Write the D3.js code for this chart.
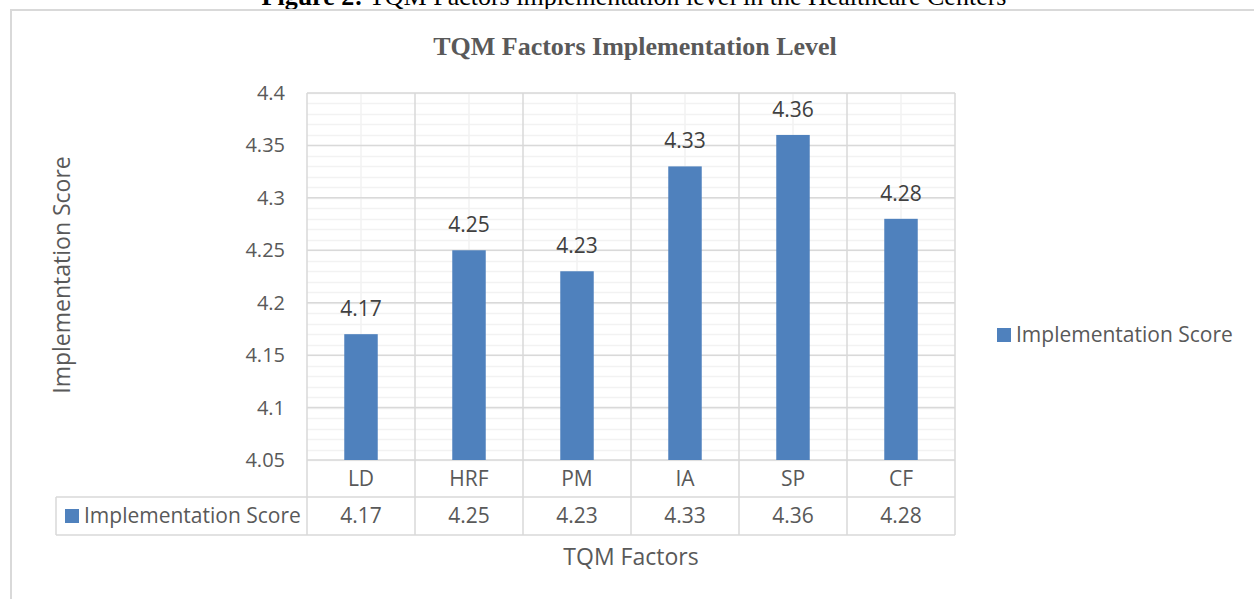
<!DOCTYPE html>
<html>
<head>
<meta charset="utf-8">
<script src="https://cdn.jsdelivr.net/npm/d3@7"></script>
<style>
    html, body { margin: 0; padding: 0; background: #fff; overflow: hidden; }
    svg { display: block; }
    text { font-family: "Open Sans", sans-serif; fill: #595959; }
</style>
</head>
<body>
<svg id="canvas" width="1254" height="599"></svg>
<script>
// Chart data
const categories = ["LD", "HRF", "PM", "IA", "SP", "CF"];
const scores = [4.17, 4.25, 4.23, 4.33, 4.36, 4.28];
const yTicks = [4.05, 4.1, 4.15, 4.2, 4.25, 4.3, 4.35, 4.4];
const yTickLabels = ["4.05", "4.1", "4.15", "4.2", "4.25", "4.3", "4.35", "4.4"];
const seriesName = "Implementation Score";
const chartTitle = "TQM Factors Implementation Level";
const xTitle = "TQM Factors";
const yTitle = "Implementation Score";

const svg = d3.select("#canvas");
const barColor = "#4F81BD";
const gridMajor = "#D9D9D9";
const gridMinor = "#F2F2F2";

const plot = { left: 307, right: 955, top: 93, bottom: 460 };
const tableRow1 = 497;
const tableRow2 = 535;
const tableLeft = 56;

// Figure caption (cut off at the top of the page)
const caption = svg.append("text")
    .attr("x", 634)
    .attr("y", 5)
    .attr("text-anchor", "middle")
    .style("font-family", "'Liberation Serif', serif")
    .style("font-size", "26px")
    .style("fill", "#000");
caption.append("tspan").style("font-weight", "bold").text("Figure 2:");
caption.append("tspan").text("  TQM Factors implementation level in the Healthcare Centers");

// Chart area border
svg.append("path")
    .attr("d", `M11,${599 + 5} L11,10 L${1254 + 5},10`)
    .attr("fill", "none")
    .attr("stroke", gridMajor)
    .attr("stroke-width", 2);

// Title
svg.append("text")
    .attr("x", 635)
    .attr("y", 55)
    .attr("text-anchor", "middle")
    .style("font-family", "'Liberation Serif', serif")
    .style("font-weight", "bold")
    .style("font-size", "26px")
    .text(chartTitle);

// Scales
const y = d3.scaleLinear().domain([4.05, 4.4]).range([plot.bottom, plot.top]);
const xCell = d3.scaleBand().domain(categories).range([plot.left, plot.right]).padding(0);
const x = d3.scaleBand().domain(categories).range([plot.left, plot.right])
    .paddingInner(0.69).paddingOuter(0.345);

// Minor horizontal gridlines
const minorTicks = d3.range(405, 441).map((d) => d / 100);
svg.append("g")
    .selectAll("line")
    .data(minorTicks)
    .join("line")
    .attr("x1", plot.left)
    .attr("x2", plot.right)
    .attr("y1", (d) => Math.round(y(d)) + 0.5)
    .attr("y2", (d) => Math.round(y(d)) + 0.5)
    .attr("stroke", gridMinor)
    .attr("stroke-width", 1.5);

// Minor vertical gridlines at category centres
svg.append("g")
    .selectAll("line")
    .data(categories)
    .join("line")
    .attr("x1", (d) => xCell(d) + xCell.bandwidth() / 2)
    .attr("x2", (d) => xCell(d) + xCell.bandwidth() / 2)
    .attr("y1", plot.top)
    .attr("y2", plot.bottom)
    .attr("stroke", gridMinor)
    .attr("stroke-width", 1.5);

// Major horizontal gridlines
svg.append("g")
    .selectAll("line")
    .data(yTicks)
    .join("line")
    .attr("x1", plot.left)
    .attr("x2", plot.right)
    .attr("y1", (d) => y(d))
    .attr("y2", (d) => y(d))
    .attr("stroke", gridMajor)
    .attr("stroke-width", 1.5);

// Major vertical lines at category boundaries (through the data table)
const boundaries = categories.map((d) => xCell(d)).concat([plot.right]);
svg.append("g")
    .selectAll("line")
    .data(boundaries)
    .join("line")
    .attr("x1", (d) => d)
    .attr("x2", (d) => d)
    .attr("y1", plot.top)
    .attr("y2", tableRow2)
    .attr("stroke", gridMajor)
    .attr("stroke-width", 1.5);

// Data table horizontal lines
[tableRow1, tableRow2].forEach((ty) => {
    svg.append("line")
        .attr("x1", tableLeft).attr("x2", plot.right)
        .attr("y1", ty).attr("y2", ty)
        .attr("stroke", gridMajor).attr("stroke-width", 1.5);
});
svg.append("line")
    .attr("x1", tableLeft).attr("x2", tableLeft)
    .attr("y1", tableRow1).attr("y2", tableRow2)
    .attr("stroke", gridMajor).attr("stroke-width", 1.5);

// Bars
svg.append("g")
    .selectAll("rect")
    .data(scores)
    .join("rect")
    .attr("x", (d, i) => x(categories[i]))
    .attr("y", (d) => y(d))
    .attr("width", x.bandwidth())
    .attr("height", (d) => plot.bottom - y(d))
    .attr("fill", barColor);

// Data labels
svg.append("g")
    .selectAll("text")
    .data(scores)
    .join("text")
    .attr("x", (d, i) => x(categories[i]) + x.bandwidth() / 2)
    .attr("y", (d) => y(d) - 18)
    .attr("text-anchor", "middle")
    .style("font-size", "21px")
    .style("fill", "#404040")
    .text((d) => d.toFixed(2));

// Y tick labels
svg.append("g")
    .selectAll("text")
    .data(yTicks)
    .join("text")
    .attr("x", 285)
    .attr("y", (d) => y(d))
    .attr("dy", "0.35em")
    .attr("text-anchor", "end")
    .style("font-size", "20px")
    .text((d, i) => yTickLabels[i]);

// Category labels (first table row)
svg.append("g")
    .selectAll("text")
    .data(categories)
    .join("text")
    .attr("x", (d) => xCell(d) + xCell.bandwidth() / 2)
    .attr("y", (plot.bottom + tableRow1) / 2)
    .attr("dy", "0.35em")
    .attr("text-anchor", "middle")
    .style("font-size", "21px")
    .text((d) => d);

// Value row of the data table
svg.append("g")
    .selectAll("text")
    .data(scores)
    .join("text")
    .attr("x", (d, i) => xCell(categories[i]) + xCell.bandwidth() / 2)
    .attr("y", (tableRow1 + tableRow2) / 2)
    .attr("dy", "0.35em")
    .attr("text-anchor", "middle")
    .style("font-size", "21px")
    .text((d) => d.toFixed(2));

// Legend key inside table
svg.append("rect")
    .attr("x", 65).attr("y", 509)
    .attr("width", 14).attr("height", 14)
    .attr("fill", barColor);
svg.append("text")
    .attr("x", 84)
    .attr("y", (tableRow1 + tableRow2) / 2)
    .attr("dy", "0.35em")
    .style("font-size", "21px")
    .text(seriesName);

// Legend on the right
svg.append("rect")
    .attr("x", 997).attr("y", 328)
    .attr("width", 14).attr("height", 14)
    .attr("fill", barColor);
svg.append("text")
    .attr("x", 1016)
    .attr("y", 335)
    .attr("dy", "0.35em")
    .style("font-size", "21px")
    .text(seriesName);

// Axis titles
svg.append("text")
    .attr("x", 631)
    .attr("y", 557)
    .attr("dy", "0.35em")
    .attr("text-anchor", "middle")
    .style("font-size", "23px")
    .text(xTitle);

svg.append("text")
    .attr("transform", "translate(62, 275) rotate(-90)")
    .attr("dy", "0.35em")
    .attr("text-anchor", "middle")
    .style("font-size", "23px")
    .text(yTitle);
</script>
</body>
</html>
